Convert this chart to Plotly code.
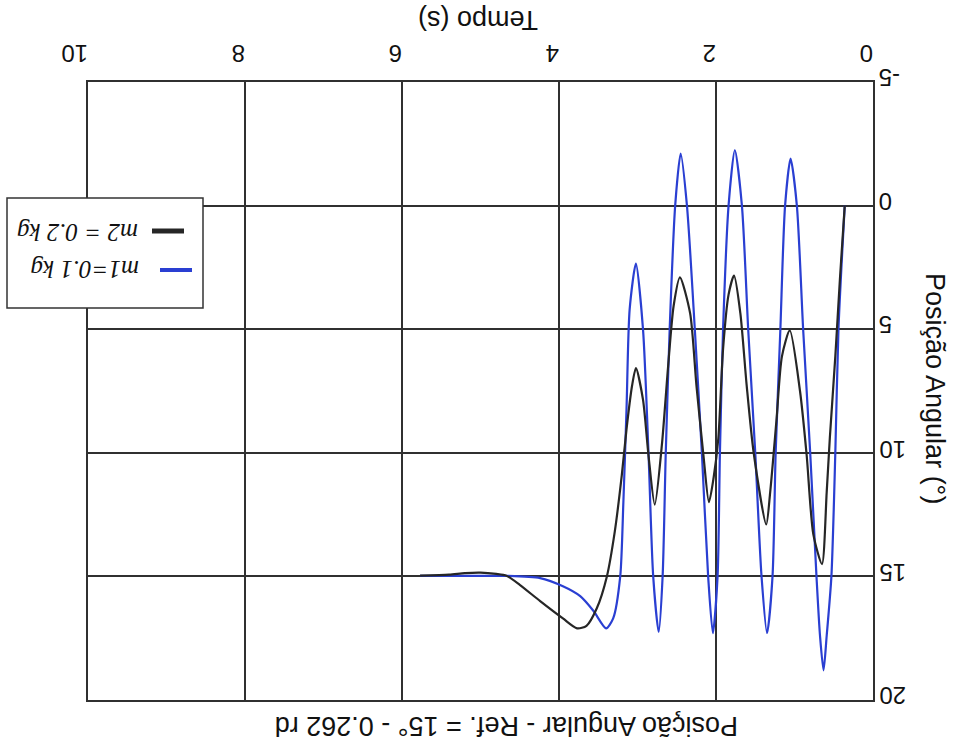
import plotly.graph_objects as go

# ---- data ----
t_m1 = [0.36, 0.44, 0.48, 0.53, 0.59, 0.63, 0.675, 0.72, 0.80, 0.89, 0.97, 1.05, 1.12, 1.18, 1.24, 1.28, 1.35,
        1.42, 1.50, 1.59, 1.67, 1.76, 1.84, 1.91, 1.95, 1.98, 2.04, 2.10, 2.18, 2.27, 2.37, 2.45, 2.52, 2.59,
        2.64, 2.68, 2.73, 2.80, 2.86, 2.93, 3.02, 3.10, 3.14, 3.18, 3.22, 3.31, 3.40, 3.56, 3.73, 3.95, 4.24,
        4.67, 5.2, 5.77]
pos_m1 = [0.0, 5.0, 10.0, 15.0, 17.4, 18.8, 17.4, 15.0, 10.0, 5.0, 0.0, -1.9, 0.0, 5.0, 10.0, 15.0, 17.3,
          15.0, 10.0, 5.0, 0.0, -2.25, 0.0, 5.0, 10.0, 15.0, 17.3, 15.0, 10.0, 5.0, 0.0, -2.1, 0.0, 5.0,
          10.0, 15.0, 17.25, 15.0, 10.0, 5.0, 2.35, 4.2, 8.25, 12.0, 15.0, 16.7, 17.1, 16.4, 15.8, 15.4, 15.07,
          14.98, 14.98, 14.98]

t_m2 = [0.36, 0.42, 0.48, 0.55, 0.59, 0.65, 0.76, 0.845, 0.93, 1.06, 1.16, 1.23, 1.31, 1.36, 1.52, 1.61,
        1.69, 1.77, 1.84, 1.91, 1.97, 2.03, 2.09, 2.16, 2.25, 2.33, 2.46, 2.54, 2.61, 2.69, 2.78, 2.86, 2.93,
        3.02, 3.07, 3.14, 3.20, 3.29, 3.39, 3.52, 3.65, 3.77, 3.95, 4.24, 4.5, 4.67, 4.8, 5.0, 5.2, 5.4, 5.77]
pos_m2 = [0.0, 2.9, 6.1, 9.4, 11.6, 14.5, 13.3, 10.1, 7.5, 5.05, 6.1, 8.7, 11.6, 12.9, 10.0, 7.25,
          4.35, 2.83, 3.6, 5.8, 9.4, 11.0, 12.0, 10.1, 7.25, 4.35, 2.9, 4.06, 6.5, 9.7, 12.1, 10.1, 7.85,
          6.57, 7.3, 9.05, 10.9, 13.2, 15.0, 16.3, 17.0, 17.1, 16.7, 16.0, 15.34, 14.97, 14.9, 14.85, 14.87,
          14.93, 14.97]

x_ticks = [0, 2, 4, 6, 8, 10]
y_ticks = [-5, 0, 5, 10, 15, 20]
y_tick_labels = ["-5", "0", "5", "10", "15", "20"]

name_m1 = "m1=0.1 kg"
name_m2 = "m2 = 0.2 kg"
title_x = "Tempo (s)"
title_y = "Posição Angular (°)"
title_bottom = "Posição Angular - Ref. = 15° - 0.262 rd"

BLUE = "#2a3fd2"
BLACK = "#262626"

W, H = 954, 755
L, R, T, B = 88, 873, 82, 700


def pxx(px):
    return (px - L) / (R - L)


def pyy(py):
    return (B - py) / (B - T)


fig = go.Figure()
fig.add_trace(go.Scatter(x=t_m1, y=pos_m1, mode="lines", name=name_m1,
                         line=dict(color=BLUE, width=2.2, shape="spline", smoothing=0.7)))
fig.add_trace(go.Scatter(x=t_m2, y=pos_m2, mode="lines", name=name_m2,
                         line=dict(color=BLACK, width=2.2, shape="spline", smoothing=0.7)))

tickfont = dict(family="Liberation Sans, Arial, sans-serif", size=24, color="#111")
fig.update_xaxes(range=[10, 0], side="top", tickvals=x_ticks, tickangle=180,
                 showgrid=True, gridcolor="#303030", gridwidth=1.5, zeroline=False,
                 showline=True, linecolor="#303030", linewidth=1.5, mirror=True,
                 ticks="", tickfont=tickfont, ticklabelstandoff=2)
fig.update_yaxes(range=[20, -5], side="right", tickvals=y_ticks, showticklabels=False,
                 showgrid=True, gridcolor="#303030", gridwidth=1.5, zeroline=False,
                 showline=True, linecolor="#303030", linewidth=1.5, mirror=True,
                 ticks="")

titlefont = dict(family="Liberation Sans, Arial, sans-serif", size=27, color="#111")
ann = [
    dict(text=title_x, x=pxx(478), y=pyy(20), textangle=180),
    dict(text=title_y, x=pxx(935), y=pyy(388), textangle=90),
    dict(text=title_bottom, x=pxx(507), y=pyy(726), textangle=180),
]
annotations = [dict(xref="paper", yref="paper", showarrow=False, font=titlefont,
                    xanchor="center", yanchor="middle", **a) for a in ann]

for v, lab in zip(y_ticks, y_tick_labels):
    annotations.append(dict(xref="paper", yref="y", x=pxx(877), y=v, text=lab, showarrow=False,
                            xanchor="left", yanchor="middle", yshift=4, textangle=180,
                            font=tickfont))

legfont = dict(family="Liberation Serif, DejaVu Serif, serif", size=25, color="#111")
annotations.append(dict(xref="paper", yref="paper", showarrow=False, font=legfont,
                        text="<i>" + name_m2 + "</i>", x=pxx(78), y=pyy(233),
                        xanchor="center", yanchor="middle", textangle=180))
annotations.append(dict(xref="paper", yref="paper", showarrow=False, font=legfont,
                        text="<i>" + name_m1 + "</i>", x=pxx(85), y=pyy(270),
                        xanchor="center", yanchor="middle", textangle=180))

shapes = [
    dict(type="rect", xref="paper", yref="paper", x0=pxx(7), x1=pxx(203), y0=pyy(308), y1=pyy(198),
         fillcolor="white", line=dict(color="#333", width=1.5), layer="above"),
    dict(type="line", xref="paper", yref="paper", x0=pxx(152), x1=pxx(184), y0=pyy(231), y1=pyy(231),
         line=dict(color=BLACK, width=5), layer="above"),
    dict(type="line", xref="paper", yref="paper", x0=pxx(160), x1=pxx(192), y0=pyy(270), y1=pyy(270),
         line=dict(color=BLUE, width=4), layer="above"),
]

fig.update_layout(width=W, height=H, margin=dict(l=L, r=W - R, t=T, b=H - B),
                  paper_bgcolor="white", plot_bgcolor="white", showlegend=False,
                  annotations=annotations, shapes=shapes)

fig.write_html("out.html")
